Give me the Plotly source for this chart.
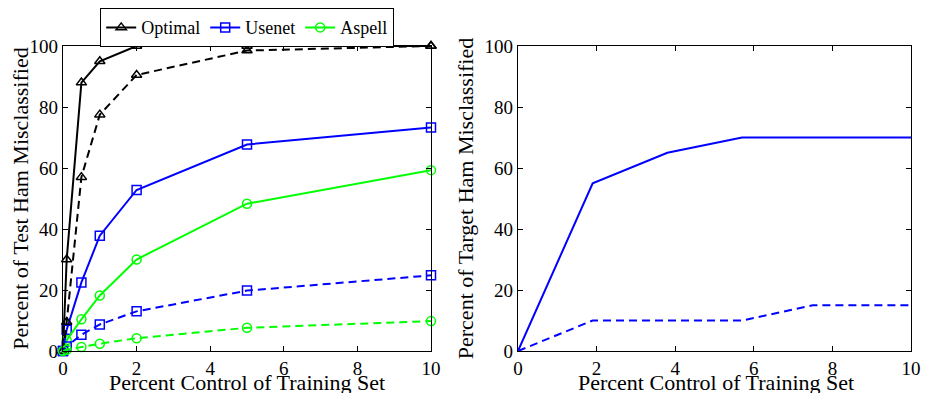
import plotly.graph_objects as go

# ---- data (left panel) ----
x_left = [0, 0.1, 0.5, 1, 2, 5, 10]
optimal_solid = [0, 30, 88, 95, 100, 100, 100]
optimal_dashed = [0, 9.5, 57, 77.5, 90.5, 98.5, 100]
usenet_solid = [0, 7, 22.5, 37.8, 52.8, 67.7, 73.3]
usenet_dashed = [0, 1.5, 5.3, 8.7, 13, 19.8, 24.8]
aspell_solid = [0, 3.5, 10.4, 18.2, 30, 48.3, 59.3]
aspell_dashed = [0, 0.4, 1.3, 2.4, 4.2, 7.6, 9.8]

# ---- data (right panel) ----
x_right = [0, 1.9, 3.8, 5.7, 7.5, 10]
target_solid = [0, 55, 65, 70, 70, 70]
target_dashed = [0, 10, 10, 10, 15, 15]

x_ticks = [0, 2, 4, 6, 8, 10]
y_ticks = [0, 20, 40, 60, 80, 100]

BLACK = "#000000"
BLUE = "#0000ff"
GREEN = "#00ff00"
FONT = "Liberation Serif"
DASH = "8px,5px"

# page body has an 8px margin on every side; size the figure so the page
# does not overflow the 930x401 window (no scrollbars)
OFF = 8
W, H = 930 - 2 * OFF, 401 - 2 * OFF

def hx(px):
    return (px - OFF) / W

def vy(px):
    return 1 - (px - OFF) / H

fig = go.Figure()

def add(x, y, color, symbol, dash, name, show, xa, ya, markers=True):
    fig.add_trace(go.Scatter(
        x=x, y=y, name=name, showlegend=show,
        mode="lines+markers" if markers else "lines",
        line=dict(color=color, width=2, dash=dash),
        marker=dict(symbol=symbol, size=9, color=color, line=dict(color=color, width=1.5)),
        xaxis=xa, yaxis=ya, cliponaxis=False,
    ))

add(x_left, optimal_solid, BLACK, "triangle-up-open", "solid", "Optimal", True, "x", "y")
add(x_left, usenet_solid, BLUE, "square-open", "solid", "Usenet", True, "x", "y")
add(x_left, aspell_solid, GREEN, "circle-open", "solid", "Aspell", True, "x", "y")
add(x_left, optimal_dashed, BLACK, "triangle-up-open", DASH, "Optimal (dashed)", False, "x", "y")
add(x_left, usenet_dashed, BLUE, "square-open", DASH, "Usenet (dashed)", False, "x", "y")
add(x_left, aspell_dashed, GREEN, "circle-open", DASH, "Aspell (dashed)", False, "x", "y")

add(x_right, target_solid, BLUE, "square-open", "solid", "Target solid", False, "x2", "y2", markers=False)
add(x_right, target_dashed, BLUE, "square-open", DASH, "Target dashed", False, "x2", "y2", markers=False)

axis_common = dict(
    showline=True, linecolor="black", linewidth=1.2, mirror="ticks",
    ticks="inside", ticklen=5, tickcolor="black", showgrid=False, zeroline=False,
    tickfont=dict(family=FONT, size=19, color="black"),
)
TITLE_FONT = dict(family=FONT, size=22, color="black")
X_TITLE = "Percent Control of Training Set"

fig.update_layout(
    width=W, height=H,
    margin=dict(l=0, r=0, t=0, b=0, autoexpand=False),
    paper_bgcolor="white", plot_bgcolor="white",
    font=dict(family=FONT, color="black"),
    xaxis=dict(domain=[hx(63), hx(431)], range=[0, 10], tickvals=x_ticks, anchor="y",
               **axis_common),
    yaxis=dict(domain=[vy(351), vy(46)], range=[0, 100], tickvals=y_ticks, anchor="x",
               title=dict(text="Percent of Test Ham Misclassified", font=TITLE_FONT, standoff=2),
               **axis_common),
    xaxis2=dict(domain=[hx(518), hx(911)], range=[0, 10], tickvals=x_ticks, anchor="y2",
                **axis_common),
    yaxis2=dict(domain=[vy(351), vy(46)], range=[0, 100], tickvals=y_ticks, anchor="x2",
                title=dict(text="Percent of Target Ham Misclassified", font=TITLE_FONT, standoff=4),
                **axis_common),
    legend=dict(
        orientation="h", x=hx(247), xanchor="center", y=1, yanchor="top",
        bordercolor="black", borderwidth=1.2, bgcolor="white",
        font=dict(family=FONT, size=18, color="black"),
        itemwidth=30, tracegroupgap=0,
    ),
    annotations=[
        dict(text=X_TITLE, xref="paper", yref="paper", x=hx(247), y=vy(382),
             xanchor="center", yanchor="middle", showarrow=False, font=TITLE_FONT),
        dict(text=X_TITLE, xref="paper", yref="paper", x=hx(716), y=vy(382),
             xanchor="center", yanchor="middle", showarrow=False, font=TITLE_FONT),
    ],
)

fig.write_html("out.html")
